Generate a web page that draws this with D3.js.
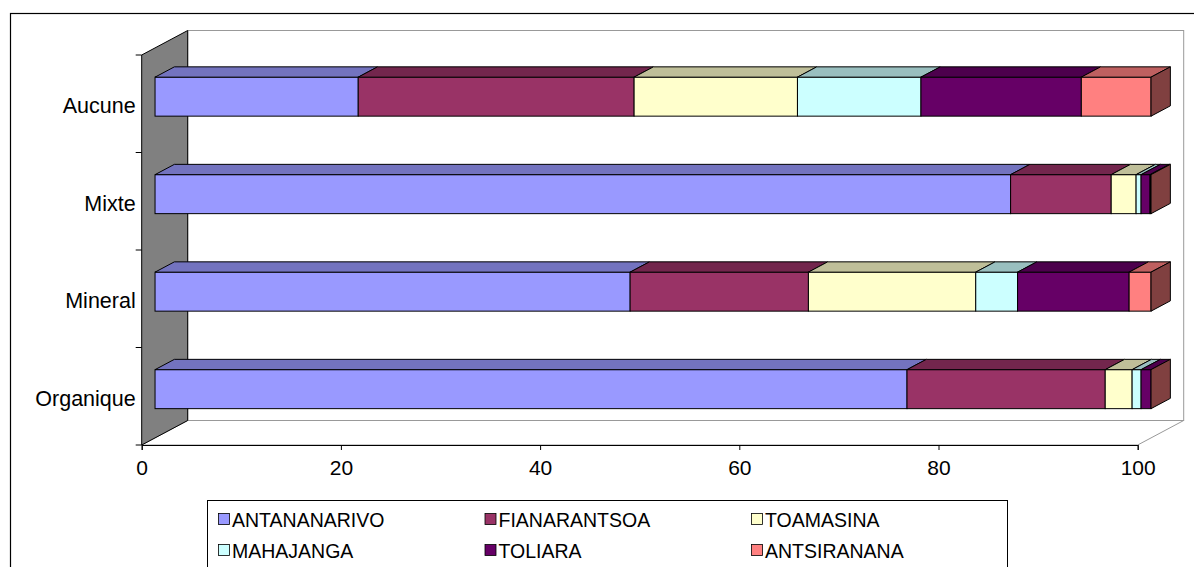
<!DOCTYPE html>
<html>
<head>
<meta charset="utf-8">
<script src="https://cdn.jsdelivr.net/npm/d3@7"></script>
<style>
  body { margin: 0; background: #fff; }
  text { font-family: "Liberation Sans", Arial, sans-serif; font-size: 20px; fill: #000; }
</style>
</head>
<body>
<div id="chart"></div>
<script>
// categories (top to bottom) and provinces (stack order, left to right)
var categories = ["Aucune", "Mixte", "Mineral", "Organique"];
var provinces = ["ANTANANARIVO", "FIANARANTSOA", "TOAMASINA", "MAHAJANGA", "TOLIARA", "ANTSIRANANA"];

// percent values per province, same order as categories
var antananarivo = [20.4, 85.9, 47.7, 75.5];
var fianarantsoa = [27.7, 10.1, 17.9, 19.9];
var toamasina    = [16.4, 2.5, 16.8, 2.7];
var mahajanga    = [12.4, 0.5, 4.2, 0.9];
var toliara      = [16.1, 0.9, 11.2, 1.0];
var antsiranana  = [7.0, 0.1, 2.2, 0.0];

var xTicks = [0, 20, 40, 60, 80, 100];
var colours = ["#9999ff", "#993366", "#ffffcc", "#ccffff", "#660066", "#ff8080"];

var width = 1194, height = 567;

// 3d depth of the plot box and where the bars sit inside it
var depthX = 46, depthY = -24.5;
var barFront = 0.29, barBack = 0.71;

var svg = d3.select("#chart")
  .append("svg")
    .attr("width", width)
    .attr("height", height);

// chart area border (runs off the right and bottom of the picture)
svg.append("rect")
  .attr("x", 10.5).attr("y", 13.5)
  .attr("width", 1300).attr("height", 700)
  .attr("fill", "none").attr("stroke", "#000").attr("stroke-width", 1.2);

var x = d3.scaleLinear().domain([0, 100]).range([141.7, 1137.7]);
var y = d3.scaleBand().domain(categories).range([55, 445])
  .paddingInner(0.6).paddingOuter(0.3);

var x0 = x.range()[0], x1 = x.range()[1];
var yTop = y.range()[0], yBot = y.range()[1];

// back wall
svg.append("rect")
  .attr("x", x0 + depthX).attr("y", yTop + depthY)
  .attr("width", x1 - x0).attr("height", yBot - yTop)
  .attr("fill", "#fff").attr("stroke", "#999").attr("stroke-width", 1);

// floor
svg.append("polygon")
  .attr("points", [[x0, yBot], [x0 + depthX, yBot + depthY], [x1 + depthX, yBot + depthY], [x1, yBot]].join(" "))
  .attr("fill", "#fff").attr("stroke", "#999").attr("stroke-width", 1);

// left wall
svg.append("polygon")
  .attr("points", [[x0, yTop], [x0 + depthX, yTop + depthY], [x0 + depthX, yBot + depthY], [x0, yBot]].join(" "))
  .attr("fill", "#808080").attr("stroke", "#000").attr("stroke-width", 1);

// build a table for d3.stack
var seriesValues = [antananarivo, fianarantsoa, toamasina, mahajanga, toliara, antsiranana];
var table = categories.map(function(c, i) {
  var row = {category: c};
  provinces.forEach(function(p, j) { row[p] = seriesValues[j][i]; });
  return row;
});
var stacked = d3.stack().keys(provinces)(table);

function shade(c, k) {
  var r = d3.rgb(c);
  return d3.rgb(r.r * k, r.g * k, r.b * k).toString();
}

var fx = barFront * depthX, fy = barFront * depthY;
var bdx = (barBack - barFront) * depthX, bdy = (barBack - barFront) * depthY;

var bars = svg.append("g").attr("class", "bars");

categories.forEach(function(cat, ci) {
  var yt = y(cat) + fy, h = y.bandwidth();
  stacked.forEach(function(s, si) {
    var d = s[ci];
    if (d[1] - d[0] <= 0) return;
    var xa = x(d[0]) + fx, xb = x(d[1]) + fx;
    bars.append("rect")
      .attr("x", xa).attr("y", yt)
      .attr("width", xb - xa).attr("height", h)
      .attr("fill", colours[si]).attr("stroke", "#000").attr("stroke-width", 1);
    bars.append("polygon")
      .attr("points", [[xa, yt], [xa + bdx, yt + bdy], [xb + bdx, yt + bdy], [xb, yt]].join(" "))
      .attr("fill", shade(colours[si], 0.75)).attr("stroke", "#000").attr("stroke-width", 1);
  });
  // right end face
  var last = stacked[stacked.length - 1];
  var xe = x(last[ci][1]) + fx;
  bars.append("polygon")
    .attr("points", [[xe, yt], [xe + bdx, yt + bdy], [xe + bdx, yt + h + bdy], [xe, yt + h]].join(" "))
    .attr("fill", shade(colours[colours.length - 1], 0.5)).attr("stroke", "#000").attr("stroke-width", 1);
});

// x axis on the front edge of the floor
var xAxis = d3.axisBottom(x).tickValues(xTicks).tickSize(5).tickPadding(10);
var gx = svg.append("g")
  .attr("transform", "translate(0," + yBot + ")")
  .call(xAxis);
gx.select(".domain").attr("stroke", "#000");
gx.selectAll(".tick line").attr("stroke", "#000");
gx.selectAll(".tick text").style("font-size", "21px").attr("fill", "#000");

// y axis: labels at band centres, ticks at band edges
var yAxis = d3.axisLeft(y).tickSize(0).tickPadding(6);
var gy = svg.append("g")
  .attr("transform", "translate(" + x0 + ",2.5)")
  .call(yAxis);
gy.select(".domain").remove();
gy.selectAll(".tick text").style("font-size", "21.5px").attr("fill", "#000");

var edges = d3.range(categories.length + 1).map(function(i) { return yTop + i * y.step(); });
svg.selectAll("line.ytick")
  .data(edges)
  .enter()
  .append("line")
    .attr("class", "ytick")
    .attr("x1", x0 - 6).attr("x2", x0)
    .attr("y1", function(d) { return d; }).attr("y2", function(d) { return d; })
    .attr("stroke", "#000");

// legend
var legend = svg.append("g").attr("class", "legend");
legend.append("rect")
  .attr("x", 207.5).attr("y", 500.5)
  .attr("width", 800).attr("height", 120)
  .attr("fill", "#fff").attr("stroke", "#000").attr("stroke-width", 1);

var item = legend.selectAll("g.item")
  .data(provinces)
  .enter()
  .append("g")
    .attr("class", "item")
    .attr("transform", function(d, i) {
      return "translate(" + (218 + (i % 3) * 266.5) + "," + (519 + Math.floor(i / 3) * 31) + ")";
    });

item.append("rect")
  .attr("x", 0.5).attr("y", -5.5)
  .attr("width", 11).attr("height", 11)
  .attr("fill", function(d, i) { return colours[i]; })
  .attr("stroke", "#000").attr("stroke-width", 0.8);

item.append("text")
  .attr("x", 14).attr("y", 7.5)
  .style("font-size", "19.5px")
  .text(function(d) { return d; });
</script>
</body>
</html>
